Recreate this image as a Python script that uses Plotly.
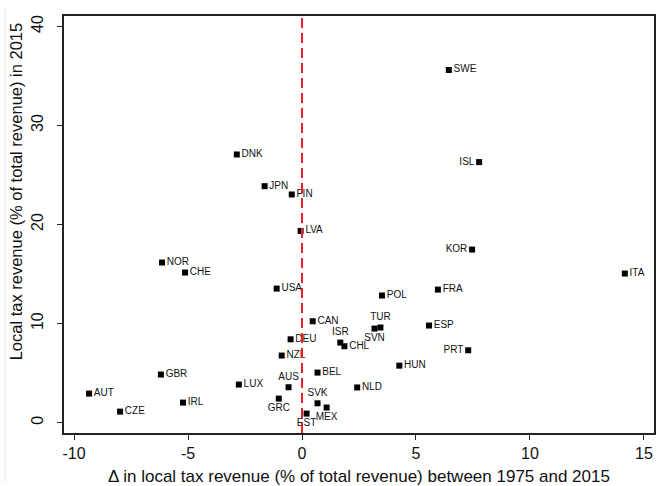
import plotly.graph_objects as go

# ---- data ----
countries = ["SWE", "ISL", "DNK", "JPN", "FIN", "LVA", "KOR", "NOR", "CHE", "ITA",
             "USA", "FRA", "POL", "CAN", "ESP", "TUR", "SVN", "DEU", "ISR", "CHL",
             "PRT", "NZL", "HUN", "BEL", "GBR", "LUX", "AUS", "NLD", "AUT", "GRC",
             "IRL", "SVK", "MEX", "CZE", "EST"]
delta_local_tax = [6.44, 7.77, -2.86, -1.64, -0.45, -0.06, 7.46, -6.14, -5.13, 14.16,
                   -1.11, 5.96, 3.51, 0.47, 5.57, 3.44, 3.18, -0.50, 1.68, 1.86,
                   7.29, -0.89, 4.27, 0.68, -6.19, -2.77, -0.59, 2.42, -9.34, -1.02,
                   -5.22, 0.68, 1.08, -7.98, 0.20]
local_tax_2015 = [35.6, 26.3, 27.07, 23.87, 23.03, 19.35, 17.47, 16.16, 15.15, 15.05,
                  13.53, 13.43, 12.83, 10.23, 9.80, 9.60, 9.49, 8.41, 8.08, 7.71,
                  7.30, 6.77, 5.75, 5.05, 4.85, 3.84, 3.57, 3.55, 2.93, 2.42,
                  2.02, 1.95, 1.52, 1.11, 0.91]
x_ticks = [-10, -5, 0, 5, 10, 15]
y_ticks = [0, 10, 20, 30, 40]

# ---- style: label placement ----
label_pos = {"ISL": "middle left", "KOR": "middle left", "PRT": "middle left",
             "ISR": "top center", "TUR": "top center", "AUS": "top center", "SVK": "top center",
             "SVN": "bottom center", "GRC": "bottom center", "EST": "bottom center",
             "MEX": "bottom center"}
positions = [label_pos.get(c, "middle right") for c in countries]

FONT = "Liberation Sans, Arial, sans-serif"

fig = go.Figure()
fig.add_trace(go.Scatter(
    x=delta_local_tax, y=local_tax_2015, mode="markers+text",
    text=countries, textposition=positions,
    textfont=dict(family=FONT, size=10, color="#111"),
    marker=dict(symbol="square", size=6, color="black"),
    cliponaxis=False, showlegend=False, hoverinfo="skip",
))

fig.add_shape(type="line", xref="x", yref="paper", x0=0, x1=0, y0=0, y1=1,
              line=dict(color="#e8202a", width=2, dash="10px,5px"))
# faint outer frame line on the left
fig.add_shape(type="line", xref="paper", yref="paper", x0=-0.0997, x1=-0.0997,
              y0=-0.1175, y1=1.019, line=dict(color="#e6e6e6", width=1))

# y-axis title (placed as in the reference, slightly above the plot centre)
fig.add_annotation(
    text="Local tax revenue (% of total revenue) in 2015",
    xref="paper", yref="paper", x=-0.081, y=0.58, textangle=-90,
    xanchor="center", yanchor="middle", showarrow=False,
    font=dict(family=FONT, size=16.5, color="#111"),
)

fig.update_layout(
    width=657, height=486,
    margin=dict(l=64, r=1, t=16, b=53),
    paper_bgcolor="white", plot_bgcolor="white",
    font=dict(family=FONT, color="#111"),
)
fig.update_xaxes(
    range=[-10.44, 15.44], tickvals=x_ticks, ticktext=[str(v) for v in x_ticks],
    showgrid=False, zeroline=False,
    showline=True, mirror=True, linecolor="#222", linewidth=1.5,
    ticks="outside", ticklen=5, tickcolor="#222", tickwidth=1,
    tickfont=dict(size=16), ticklabelstandoff=0,
    title=dict(text="Δ in local tax revenue (% of total revenue) between 1975 and 2015",
               font=dict(size=17), standoff=9),
)
fig.update_yaxes(
    range=[-1.05, 41.05], tickvals=y_ticks, ticktext=[str(v) for v in y_ticks],
    showgrid=False, zeroline=False,
    showline=True, mirror=True, linecolor="#222", linewidth=1.5,
    ticks="outside", ticklen=5, tickcolor="#222", tickwidth=1,
    tickangle=-90, tickfont=dict(size=16), ticklabelstandoff=8,
)

fig.write_html(
    "out.html",
    config={"displayModeBar": False},
    post_script="document.body.style.margin='0';document.body.style.overflow='hidden';",
)
